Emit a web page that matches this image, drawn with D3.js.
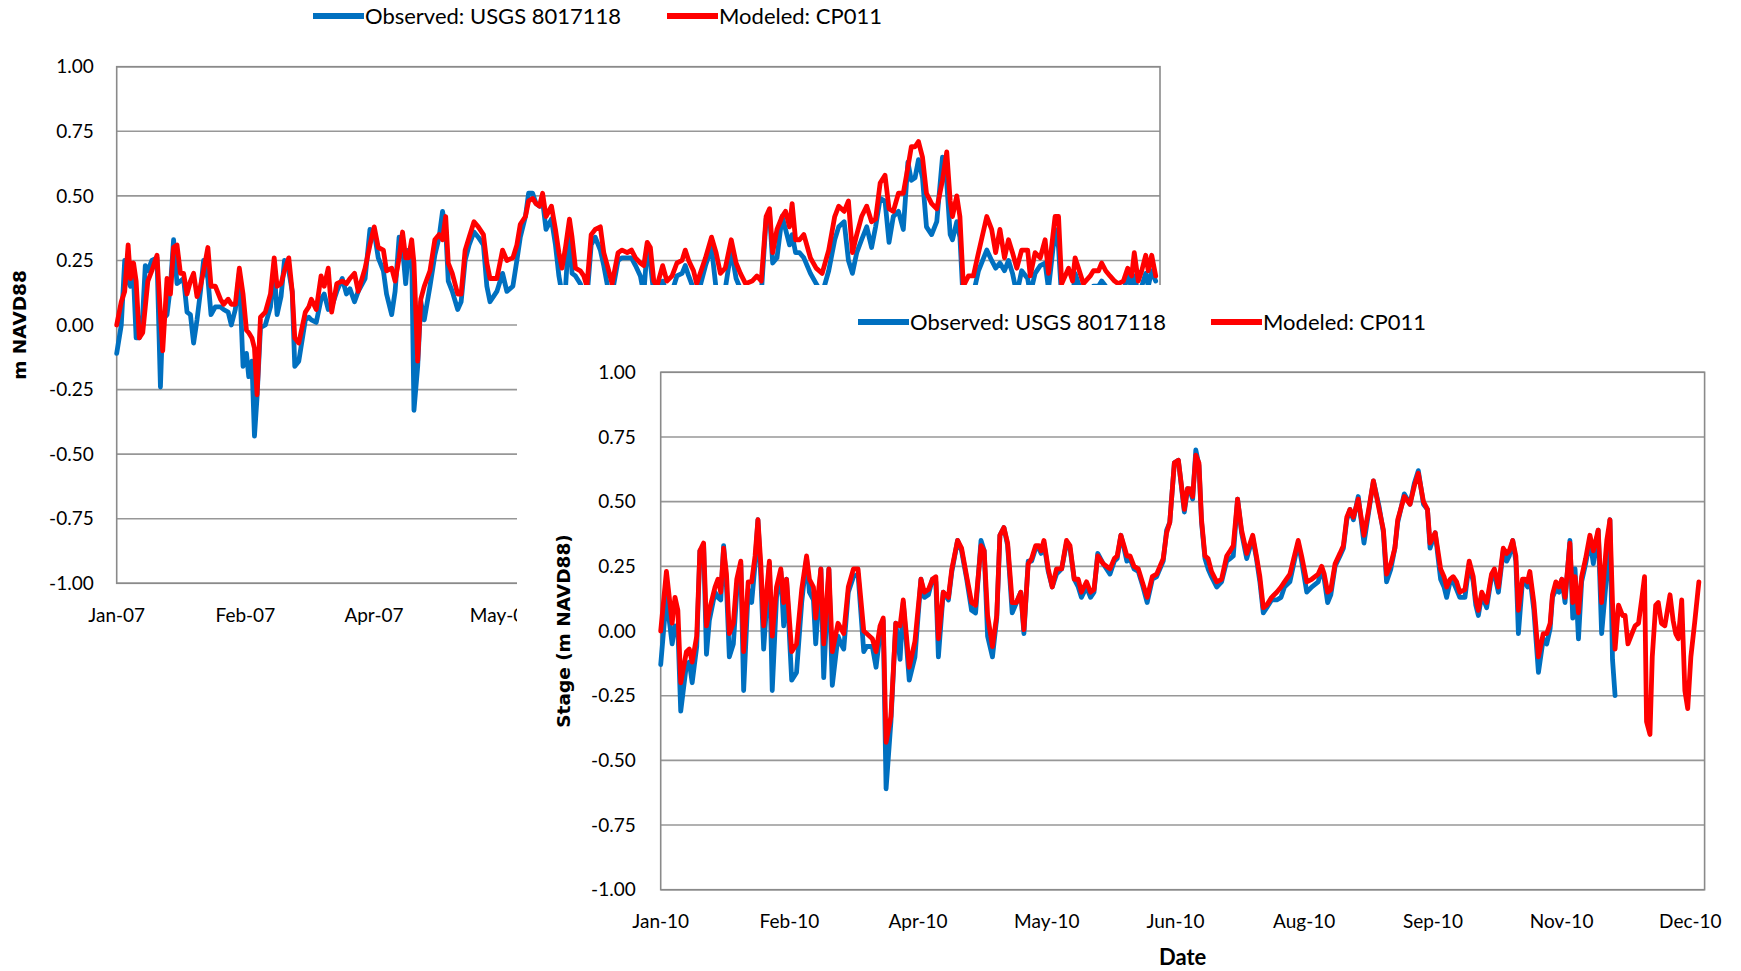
<!DOCTYPE html>
<html>
<head>
<meta charset="utf-8">
<script src="https://cdn.jsdelivr.net/npm/d3@7"></script>
<style>
  html, body { margin: 0; padding: 0; background: #fff; }
  svg { display: block; }
  .tick-label { font-family: Lato, "Open Sans", sans-serif; font-size: 19px; fill: #000; }
  .legend-label { font-family: Lato, "Open Sans", sans-serif; font-size: 22px; fill: #000; }
  .y-title { font-family: "DejaVu Sans", sans-serif; font-weight: bold; font-size: 18.5px; fill: #000; }
  .x-title { font-family: Lato, "Open Sans", sans-serif; font-weight: bold; font-size: 22px; fill: #000; }
</style>
</head>
<body>
<svg id="chart" width="1741" height="971"></svg>
<script>
// ---- Stage at the gauge, 2007 (days since 1 Jan 2007) ----
const day07 = [0,1.6,2.8,4,4.8,5.9,6.8,7.9,9.1,10,10.9,12.3,14.1,15.3,16.1,17.6,18.8,19.9,21.1,22.3,23.4,24.6,25.8,26.9,28.1,29.3,30.4,31.9,33,34.5,36.3,37.4,39,40.1,41.5,42.9,44.2,45.4,46.2,47.3,48.2,49.1,50.3,52,53.8,55.1,56.1,57.5,58.7,60.2,61.4,62.3,63.7,66,67.2,68.1,69.8,71.5,72.6,74,75.2,77,78.9,80.4,81.6,83.2,84.5,86.9,88.6,90.1,91.5,93.3,94.4,96.2,97.4,98.8,100,101.1,102.1,103.2,104,105.3,106.4,107.6,109.6,111.3,112.8,114,115.1,116,117.4,119.3,120.5,121.9,123.3,125,126.5,128.3,129.5,130.6,133,135,136.5,138.6,140,141.2,143,144.1,145.5,146.7,147.9,149,150.2,152.1,153.5,154.7,155.8,157,158.4,159.3,160.5,162.2,163.4,164.5,166,167.4,169.2,170.4,171.9,173.3,175.4,176.8,178.6,180.1,181.5,183.2,184.4,185.6,186.7,187.9,189,191,192.5,194.3,196,197.8,198.9,200.1,201.8,202.9,206,208.1,209.7,211.2,212.9,215,216.7,218.2,220,222.3,224,225.5,227.2,228.4,229.5,231,232.8,234,235.4,236.3,237.5,238.9,240.4,242.7,244.7,246.8,249.1,251.2,252.6,254.5,256,257.4,258.9,260.6,262.4,264.1,265.5,267.1,268.8,270.2,271.7,273.5,275.2,276.8,278,279.3,280.5,281.9,283.3,285.1,286.9,288.9,290.4,291.6,292.4,293.9,295,296.2,298,299.7,301.5,304.4,306.1,307.5,309,310.6,312,313.4,314.9,316.6,318.7,319.6,321.3,323.1,324.8,326,328.3,329.5,330.6,333,334.4,335.3,336.5,338.2,340.6,341.7,343.5,344.6,346,347.5,349.1,350.4,352.2,353.7,355.1,356,357.4,358.6,360,360.9,362.1,363.5];
const obs07 = [-0.11,0.00,0.25,0.17,0.15,0.18,-0.05,-0.05,0.04,0.23,0.21,0.25,0.26,-0.24,0.02,0.04,0.15,0.33,0.16,0.17,0.18,0.05,0.04,-0.07,0.02,0.13,0.25,0.18,0.04,0.07,0.07,0.06,0.05,0.00,0.06,0.20,-0.16,-0.11,-0.20,-0.14,-0.43,-0.28,-0.01,0.00,0.07,0.22,0.04,0.11,0.25,0.21,0.13,-0.16,-0.14,0.02,0.03,0.02,0.01,0.10,0.12,0.06,0.07,0.13,0.18,0.12,0.14,0.09,0.13,0.18,0.37,0.36,0.26,0.21,0.12,0.04,0.13,0.34,0.30,0.16,0.29,0.27,-0.33,-0.16,0.09,0.02,0.15,0.27,0.34,0.44,0.37,0.17,0.13,0.06,0.09,0.25,0.31,0.36,0.34,0.31,0.15,0.09,0.13,0.20,0.13,0.15,0.25,0.34,0.42,0.51,0.51,0.47,0.46,0.48,0.37,0.41,0.31,0.19,0.12,0.14,0.39,0.20,0.19,0.16,0.12,0.10,0.31,0.34,0.29,0.23,0.14,0.12,0.25,0.26,0.26,0.26,0.23,0.19,0.12,0.30,0.24,0.12,0.10,0.17,0.12,0.13,0.19,0.20,0.23,0.19,0.14,0.10,0.23,0.30,0.14,0.11,0.14,0.29,0.18,0.14,0.10,0.12,0.14,0.12,0.41,0.43,0.24,0.26,0.42,0.37,0.31,0.35,0.28,0.28,0.26,0.20,0.16,0.12,0.21,0.33,0.38,0.40,0.25,0.20,0.28,0.33,0.38,0.30,0.38,0.49,0.48,0.32,0.42,0.44,0.37,0.63,0.56,0.57,0.64,0.57,0.38,0.35,0.40,0.65,0.55,0.35,0.33,0.40,0.34,0.08,0.10,0.12,0.21,0.29,0.25,0.22,0.24,0.21,0.25,0.20,0.12,0.21,0.18,0.12,0.20,0.23,0.24,0.14,0.37,0.30,0.10,0.14,0.10,0.20,0.16,0.10,0.13,0.15,0.15,0.17,0.15,0.13,0.12,0.11,0.12,0.20,0.14,0.19,0.12,0.15,0.20,0.15,0.21,0.17];
const mod07 = [0.00,0.09,0.13,0.31,0.18,0.24,0.17,-0.05,-0.03,0.07,0.17,0.21,0.27,0.04,-0.10,0.18,0.12,0.30,0.31,0.20,0.20,0.12,0.17,0.20,0.11,0.15,0.21,0.30,0.15,0.15,0.10,0.08,0.10,0.08,0.08,0.22,0.12,-0.02,-0.03,-0.05,-0.09,-0.27,0.03,0.05,0.12,0.26,0.15,0.16,0.21,0.26,0.13,-0.05,-0.07,0.05,0.07,0.10,0.06,0.19,0.15,0.22,0.05,0.16,0.17,0.16,0.18,0.20,0.13,0.22,0.31,0.38,0.30,0.29,0.21,0.22,0.17,0.26,0.36,0.26,0.26,0.33,0.24,-0.14,0.10,0.15,0.21,0.33,0.35,0.33,0.42,0.24,0.20,0.12,0.12,0.29,0.34,0.40,0.38,0.35,0.24,0.18,0.18,0.29,0.25,0.26,0.31,0.39,0.42,0.48,0.49,0.47,0.46,0.51,0.42,0.46,0.37,0.28,0.22,0.30,0.41,0.34,0.22,0.21,0.19,0.15,0.35,0.37,0.38,0.28,0.22,0.16,0.28,0.29,0.28,0.29,0.26,0.24,0.23,0.32,0.30,0.17,0.15,0.23,0.17,0.19,0.24,0.25,0.29,0.25,0.21,0.16,0.26,0.34,0.28,0.20,0.22,0.33,0.24,0.20,0.16,0.17,0.19,0.17,0.42,0.45,0.28,0.37,0.42,0.44,0.38,0.47,0.33,0.33,0.35,0.26,0.22,0.20,0.29,0.42,0.46,0.44,0.48,0.28,0.35,0.42,0.46,0.40,0.41,0.55,0.58,0.45,0.44,0.51,0.51,0.61,0.69,0.69,0.71,0.65,0.51,0.47,0.45,0.56,0.67,0.48,0.42,0.50,0.42,0.15,0.19,0.19,0.28,0.42,0.37,0.28,0.37,0.26,0.33,0.28,0.22,0.29,0.29,0.19,0.28,0.26,0.33,0.20,0.42,0.42,0.16,0.22,0.17,0.26,0.22,0.16,0.19,0.21,0.21,0.24,0.21,0.19,0.17,0.16,0.17,0.22,0.19,0.28,0.17,0.21,0.27,0.21,0.27,0.19];

// ---- Stage at the gauge, 2010 (days since 1 Jan 2010) ----
const day10 = [0,2,4,5,6,7,9,10,11,12.6,13.7,15,16,17,19,20,21,22,23,24,25.4,26.6,28,29,30.6,31.8,33,34,35,36,38,39,40.5,42,43,44,45.8,47.5,49.3,51,52,53.4,54.2,56,57,58.8,60,62,63,64,65.6,67.4,69,71,72,74,75.3,76.7,77.8,78.8,80.5,82.2,83.7,84.8,86.9,88.9,91,92.2,93.6,95,96.2,97.1,98.8,100.6,101.8,103.8,105.2,107,108.7,110.1,112,113.1,114.3,116,117.5,118.6,120,121.3,122.9,124.4,125.9,127,128.5,129.7,131.1,132.2,133,134,135.5,136.9,138.4,140.2,141.9,143.1,144.6,146,147.1,148.9,150.3,151.5,152.8,154.7,157.1,158.6,159.6,160.9,162,163,164.1,165.5,167,168.4,170.1,171.9,173.4,175.7,176.9,178,179.6,181,183.1,184.2,185.1,186,187.1,188.2,189.1,190.3,191.4,192.6,194.4,196.1,197.9,199.1,200.2,201.7,203.1,204.9,207,208.3,209.5,210.7,211.9,213.6,215.4,216.9,218.1,220,222.9,224.1,225.9,227.6,229.9,231.1,232,233.2,234.3,235.8,237.5,238.7,239.9,241,242.2,243.9,245.9,247.4,249.2,251.2,252.7,253.8,255.3,256.7,257.7,260,262,263.5,264.9,266.7,268.1,269,270.8,272.7,273.9,274.8,276,277.1,278.3,279.4,281.2,282.7,284.1,285,285.9,287.1,288.8,290.5,291.5,292.9,294.6,295.8,296.7,297.9,299,299.9,301.3,302.2,303.1,303.9,305.3,306.9,308.6,309.8,311,311.8,313,314.1,315.1,316.2,317.9,318.9,319.7,320.9,322,323.4,324.9,326.1,327.8,329,330.8,331.9,332.8,333.7,334.9,336.3,337.2,338.2,339.6,340.7,341.9,343.1,344,344.7,345.9,346.7,347.9,348.8,349.9,351.1,352.9,354,354.9,355.8,357,358.1,359.1,360.2,361.6,363];
const obs10 = [-0.13,0.13,-0.05,0.02,0.01,-0.31,-0.13,-0.12,-0.20,-0.06,0.31,0.33,-0.09,0.04,0.15,0.13,0.12,0.33,0.17,-0.10,-0.05,0.15,0.26,-0.23,0.16,0.11,0.26,0.43,0.21,-0.07,0.26,-0.23,0.13,0.23,0.02,0.20,-0.19,-0.16,0.11,0.28,0.15,0.12,-0.05,0.24,-0.18,0.24,-0.21,-0.02,-0.05,-0.07,0.15,0.21,0.22,-0.08,-0.06,-0.06,-0.14,-0.01,0.04,-0.61,-0.35,0.03,-0.11,0.11,-0.19,-0.10,0.20,0.13,0.14,0.20,0.19,-0.10,0.15,0.12,0.23,0.35,0.31,0.20,0.08,0.07,0.35,0.31,-0.02,-0.10,0.05,0.37,0.40,0.33,0.07,0.11,0.15,-0.01,0.27,0.27,0.32,0.32,0.30,0.34,0.23,0.17,0.22,0.24,0.34,0.32,0.20,0.17,0.13,0.17,0.13,0.15,0.30,0.26,0.22,0.27,0.28,0.37,0.32,0.27,0.28,0.24,0.23,0.18,0.11,0.20,0.21,0.27,0.39,0.42,0.65,0.66,0.46,0.55,0.54,0.51,0.70,0.64,0.42,0.28,0.24,0.21,0.17,0.19,0.27,0.28,0.29,0.51,0.38,0.28,0.36,0.28,0.19,0.07,0.09,0.12,0.12,0.13,0.17,0.19,0.34,0.27,0.15,0.17,0.19,0.24,0.20,0.11,0.14,0.25,0.29,0.32,0.43,0.47,0.43,0.52,0.34,0.45,0.58,0.48,0.38,0.19,0.24,0.32,0.42,0.53,0.49,0.57,0.62,0.49,0.47,0.32,0.38,0.20,0.17,0.13,0.19,0.19,0.16,0.13,0.13,0.26,0.19,0.10,0.06,0.14,0.09,0.21,0.22,0.15,0.31,0.27,0.29,0.35,0.27,-0.01,0.19,0.19,0.17,0.21,0.08,-0.16,-0.03,-0.05,0.01,0.13,0.16,0.15,0.20,0.11,0.35,0.05,0.24,-0.03,0.19,0.26,0.35,0.26,0.39,-0.01,0.22,0.43,-0.11,-0.25,null,null,null,null,null,null,null,null,null,null,null,null,null,null,null,null,null,null,null,null,null,null,null,null,null,null,null,null,null];
const mod10 = [0.00,0.23,0.03,0.13,0.08,-0.20,-0.08,-0.07,-0.12,-0.02,0.31,0.34,0.02,0.08,0.17,0.20,0.15,0.32,0.22,-0.01,0.03,0.20,0.27,-0.08,0.19,0.19,0.29,0.43,0.26,0.02,0.27,-0.02,0.17,0.24,0.11,0.20,-0.08,-0.05,0.16,0.29,0.20,0.17,0.05,0.24,-0.05,0.24,-0.08,0.03,0.01,-0.01,0.17,0.24,0.24,0.00,-0.01,-0.03,-0.08,0.02,0.05,-0.43,-0.33,0.03,0.02,0.12,-0.14,-0.04,0.20,0.15,0.16,0.20,0.21,-0.03,0.15,0.13,0.24,0.35,0.32,0.21,0.11,0.10,0.33,0.31,0.06,-0.06,0.06,0.37,0.40,0.34,0.11,0.11,0.15,0.005,0.26,0.28,0.33,0.33,0.31,0.35,0.24,0.17,0.24,0.24,0.35,0.33,0.20,0.20,0.15,0.19,0.15,0.16,0.29,0.26,0.24,0.28,0.29,0.37,0.33,0.29,0.29,0.25,0.24,0.19,0.13,0.21,0.22,0.28,0.38,0.42,0.65,0.66,0.47,0.55,0.55,0.52,0.68,0.65,0.43,0.29,0.28,0.23,0.19,0.20,0.29,0.31,0.33,0.51,0.39,0.30,0.37,0.29,0.21,0.09,0.10,0.13,0.15,0.17,0.19,0.22,0.35,0.29,0.19,0.20,0.22,0.25,0.22,0.15,0.16,0.26,0.30,0.33,0.44,0.47,0.44,0.51,0.37,0.46,0.58,0.47,0.39,0.22,0.26,0.32,0.43,0.52,0.49,0.56,0.61,0.50,0.47,0.34,0.38,0.24,0.21,0.17,0.20,0.21,0.19,0.15,0.16,0.27,0.21,0.12,0.08,0.15,0.11,0.22,0.24,0.17,0.32,0.30,0.31,0.35,0.29,0.08,0.20,0.20,0.19,0.23,0.11,-0.10,-0.01,-0.01,0.03,0.14,0.19,0.17,0.20,0.13,0.34,0.11,0.21,0.07,0.21,0.28,0.37,0.31,0.39,0.11,0.35,0.43,0.11,-0.07,0.10,0.06,0.06,-0.05,-0.01,0.02,0.03,0.13,0.21,-0.35,-0.40,-0.10,0.10,0.11,0.03,0.02,0.14,0.04,-0.01,-0.03,0.12,-0.23,-0.30,-0.10,0.04,0.19];

// ---- Axis ticks and labels ----
const yTicks = [1.00, 0.75, 0.50, 0.25, 0.00, -0.25, -0.50, -0.75, -1.00];
const xTickDays = [0, 45, 90, 135, 180, 225, 270, 315, 360];
const seriesNames = ["Observed: USGS 8017118", "Modeled: CP011"];
const yTitles = ["m NAVD88", "Stage (m NAVD88)"];
const xTitle = "Date";

const BLUE = "#0070C0", RED = "#FF0000";
const GRID = "#979797", FRAME = "#8a8a8a";

// the 2010 card starts here; anything of the 2007 panel to the right of it and below its top is hidden
const CARD_X = 517, CARD_Y = 285;

const svg = d3.select("#chart");

// clip for the 2007 x-axis labels, which run under the 2010 card
svg.append("defs").append("clipPath").attr("id", "clip07labels")
  .append("rect").attr("x", 0).attr("y", 0).attr("width", CARD_X).attr("height", 971);

function dayToDate(year, d) {
  return new Date(Date.UTC(year, 0, 1) + d * 864e5);
}

function drawPanel(g, cfg) {
  const x = d3.scaleUtc()
    .domain([Date.UTC(cfg.year, 0, 1), Date.UTC(cfg.year + 1, 0, 1)])
    .range([cfg.left, cfg.right]);
  const y = d3.scaleLinear().domain([-1, 1]).range([cfg.bottom, cfg.top]);

  // horizontal gridlines
  g.append("g").selectAll("line").data(yTicks).join("line")
    .attr("x1", cfg.left).attr("x2", cfg.right)
    .attr("y1", d => y(d)).attr("y2", d => y(d))
    .attr("stroke", GRID).attr("stroke-width", 1.6);

  // plot frame
  g.append("rect")
    .attr("x", cfg.left).attr("y", y(1))
    .attr("width", cfg.right - cfg.left).attr("height", y(-1) - y(1))
    .attr("fill", "none").attr("stroke", FRAME).attr("stroke-width", 1.6);

  // y tick labels
  g.append("g").selectAll("text").data(yTicks).join("text")
    .attr("class", "tick-label")
    .attr("x", cfg.left - cfg.yLabelGap).attr("y", d => y(d)).attr("dy", "0.35em")
    .attr("text-anchor", "end")
    .text(d => d.toFixed(2));

  // x tick labels
  const fmt = d3.utcFormat("%b-%y");
  const xl = g.append("g");
  if (cfg.xLabelClip) xl.attr("clip-path", `url(#${cfg.xLabelClip})`);
  xl.selectAll("text").data(cfg.xTickDays).join("text")
    .attr("class", "tick-label")
    .attr("x", d => x(dayToDate(cfg.year, d)))
    .attr("y", y(-1) + 32).attr("dy", "0.35em")
    .attr("text-anchor", "middle")
    .text(d => fmt(dayToDate(cfg.year, d)));

  // series
  const rows = cfg.days.map((d, i) => ({ t: dayToDate(cfg.year, d), obs: cfg.obs[i], mod: cfg.mod[i] }));
  const line = key => d3.line()
    .defined(r => r[key] !== null)
    .x(r => x(r.t)).y(r => y(r[key]));
  g.append("path").datum(rows.filter(r => r.obs !== null))
    .attr("d", line("obs")).attr("fill", "none")
    .attr("stroke", BLUE).attr("stroke-width", 4.8)
    .attr("stroke-linejoin", "round").attr("stroke-linecap", "round");
  g.append("path").datum(rows)
    .attr("d", line("mod")).attr("fill", "none")
    .attr("stroke", RED).attr("stroke-width", 4.8)
    .attr("stroke-linejoin", "round").attr("stroke-linecap", "round");

  // y axis title
  g.append("text").attr("class", "y-title")
    .attr("transform", `translate(${cfg.yTitleX},${(y(1) + y(-1)) / 2}) rotate(-90)`)
    .attr("text-anchor", "middle").attr("dy", "0.35em")
    .text(cfg.yTitle);

  // legend
  const lg = g.append("g");
  cfg.legend.forEach((L, i) => {
    lg.append("line")
      .attr("x1", L.x).attr("x2", L.x + 51)
      .attr("y1", cfg.legendY).attr("y2", cfg.legendY)
      .attr("stroke", i === 0 ? BLUE : RED).attr("stroke-width", 6);
    lg.append("text").attr("class", "legend-label")
      .attr("x", L.x + 52).attr("y", cfg.legendY).attr("dy", "0.35em")
      .text(seriesNames[i]);
  });

  return { x, y };
}

// 2007 panel (behind); only the labels left of the card are shown
drawPanel(svg.append("g"), {
  year: 2007, left: 116.7, right: 1160, top: 66.7, bottom: 583.3,
  days: day07, obs: obs07, mod: mod07,
  xTickDays: xTickDays.filter(d => d <= 135), xLabelClip: "clip07labels",
  yLabelGap: 23, yTitle: yTitles[0], yTitleX: 20,
  legendY: 16, legend: [{ x: 313 }, { x: 667 }]
});

// 2010 panel sits on its own white card over the 2007 panel
svg.append("rect").attr("x", CARD_X).attr("y", CARD_Y)
  .attr("width", 1741 - CARD_X).attr("height", 971 - CARD_Y)
  .attr("fill", "#fff");

const front = svg.append("g");
drawPanel(front, {
  year: 2010, left: 660.7, right: 1704.6, top: 372.3, bottom: 889.7,
  days: day10, obs: obs10, mod: mod10,
  xTickDays: xTickDays,
  yLabelGap: 25, yTitle: yTitles[1], yTitleX: 564,
  legendY: 322, legend: [{ x: 858 }, { x: 1211 }]
});

front.append("text").attr("class", "x-title")
  .attr("x", (660.7 + 1704.6) / 2).attr("y", 957).attr("dy", "0.35em")
  .attr("text-anchor", "middle").text(xTitle);
</script>
</body>
</html>
